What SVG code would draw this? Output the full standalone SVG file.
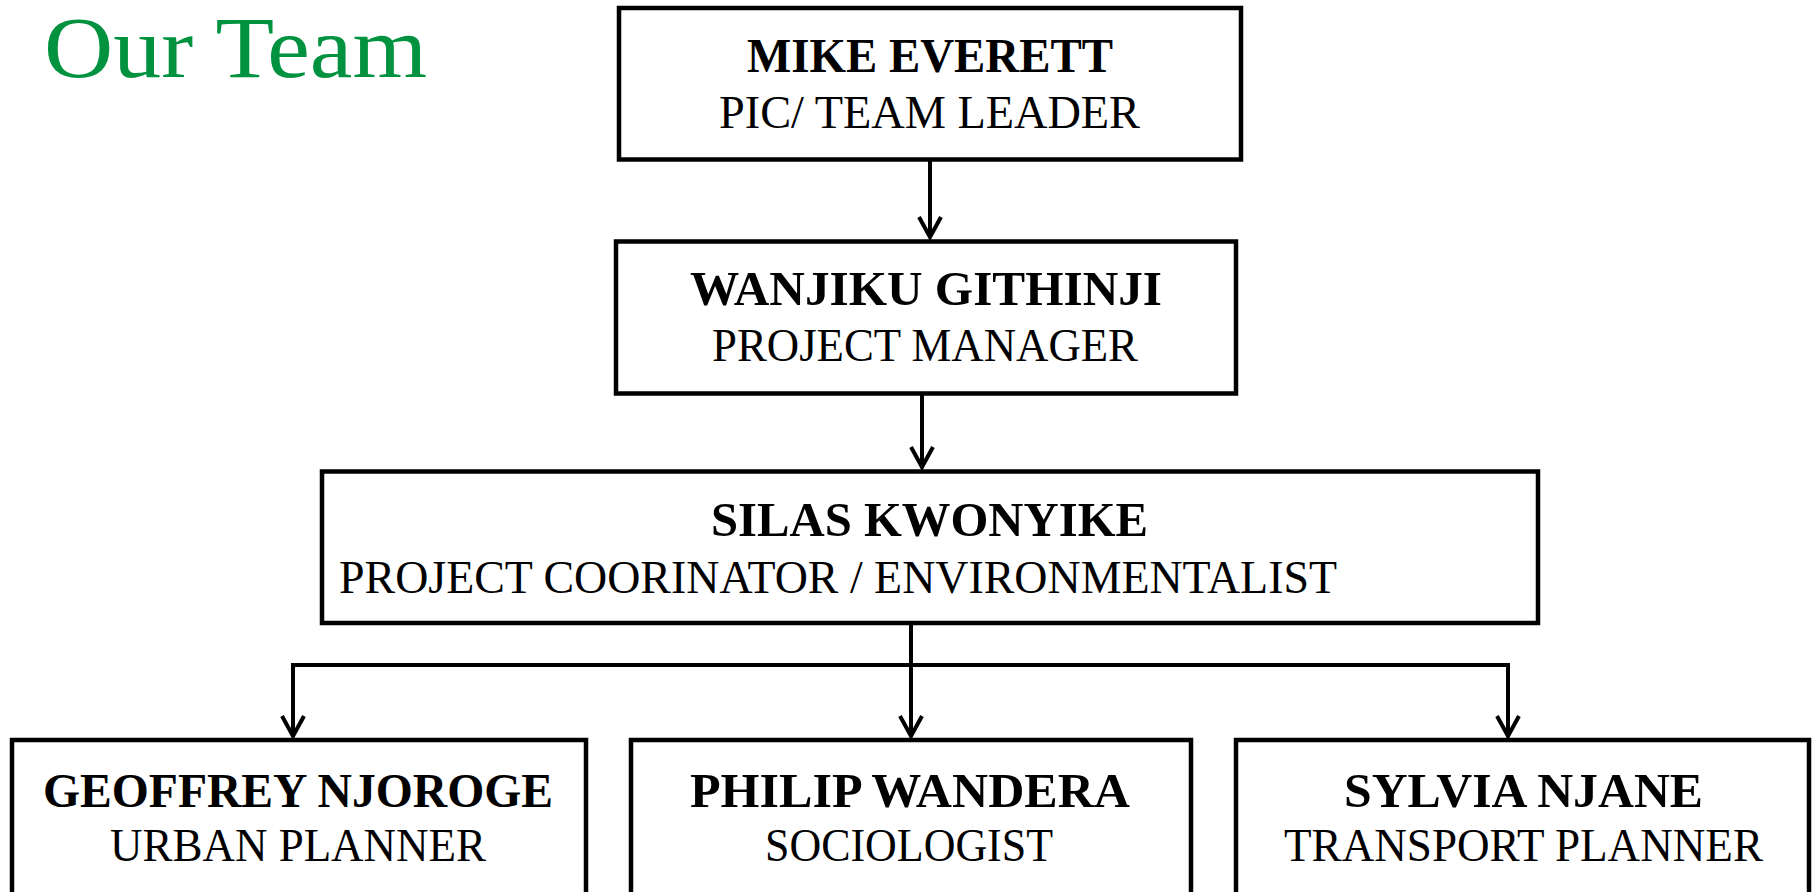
<svg xmlns="http://www.w3.org/2000/svg" width="1815" height="892" viewBox="0 0 1815 892">
<style>
  .box { fill: #ffffff; stroke: #000000; stroke-width: 4.5; }
  .name { font-family: "Liberation Serif", "Times New Roman", serif; font-weight: bold; font-size: 48px; fill: #000000; }
  .role { font-family: "Liberation Serif", "Times New Roman", serif; font-size: 46px; fill: #000000; }
  .title { font-family: "Liberation Serif", "Times New Roman", serif; font-size: 86px; fill: #00923F; }
  .conn { fill: none; stroke: #000000; stroke-width: 4; }
</style>
<defs>
  <marker id="arrow" markerUnits="userSpaceOnUse" markerWidth="30" markerHeight="30" refX="0" refY="0" orient="auto" overflow="visible">
    <path d="M-20,-11 L0,0 L-20,11" fill="none" stroke="#000000" stroke-width="4" stroke-linejoin="miter"/>
  </marker>
</defs>
<rect x="0" y="0" width="1815" height="892" fill="#ffffff"/>

<text class="title" x="44" y="77" textLength="383" lengthAdjust="spacingAndGlyphs">Our Team</text>

<g id="connectors">
  <line class="conn" x1="930" y1="160" x2="930" y2="237" marker-end="url(#arrow)"/>
  <line class="conn" x1="922" y1="394" x2="922" y2="467" marker-end="url(#arrow)"/>
  <line class="conn" x1="911" y1="623" x2="911" y2="736" marker-end="url(#arrow)"/>
  <line class="conn" x1="291" y1="665" x2="1510" y2="665" stroke-width="4.5"/>
  <path class="conn" d="M293,663 L293,736" marker-end="url(#arrow)"/>
  <path class="conn" d="M1508,663 L1508,736" marker-end="url(#arrow)"/>
</g>

<g id="node-mike">
  <rect class="box" x="619" y="8" width="622" height="151.5"/>
  <text class="name" x="747" y="72" textLength="366" lengthAdjust="spacingAndGlyphs">MIKE EVERETT</text>
  <text class="role" x="719" y="128" textLength="421" lengthAdjust="spacingAndGlyphs">PIC/ TEAM LEADER</text>
</g>

<g id="node-wanjiku">
  <rect class="box" x="616" y="241.5" width="620" height="152"/>
  <text class="name" x="690" y="305" textLength="472" lengthAdjust="spacingAndGlyphs">WANJIKU GITHINJI</text>
  <text class="role" x="712" y="361" textLength="426" lengthAdjust="spacingAndGlyphs">PROJECT MANAGER</text>
</g>

<g id="node-silas">
  <rect class="box" x="322" y="471.5" width="1216" height="151.5"/>
  <text class="name" x="711" y="536" textLength="437" lengthAdjust="spacingAndGlyphs">SILAS KWONYIKE</text>
  <text class="role" x="339" y="593" textLength="998" lengthAdjust="spacingAndGlyphs">PROJECT COORINATOR / ENVIRONMENTALIST</text>
</g>

<g id="node-geoffrey">
  <rect class="box" x="12" y="740" width="574" height="200"/>
  <text class="name" x="43" y="807" textLength="510" lengthAdjust="spacingAndGlyphs">GEOFFREY NJOROGE</text>
  <text class="role" x="110" y="861" textLength="376" lengthAdjust="spacingAndGlyphs">URBAN PLANNER</text>
</g>

<g id="node-philip">
  <rect class="box" x="631" y="740" width="560" height="200"/>
  <text class="name" x="690" y="807" textLength="440" lengthAdjust="spacingAndGlyphs">PHILIP WANDERA</text>
  <text class="role" x="765" y="861" textLength="288" lengthAdjust="spacingAndGlyphs">SOCIOLOGIST</text>
</g>

<g id="node-sylvia">
  <rect class="box" x="1236" y="740" width="573" height="200"/>
  <text class="name" x="1344" y="807" textLength="359" lengthAdjust="spacingAndGlyphs">SYLVIA NJANE</text>
  <text class="role" x="1284" y="861" textLength="479" lengthAdjust="spacingAndGlyphs">TRANSPORT PLANNER</text>
</g>
</svg>
